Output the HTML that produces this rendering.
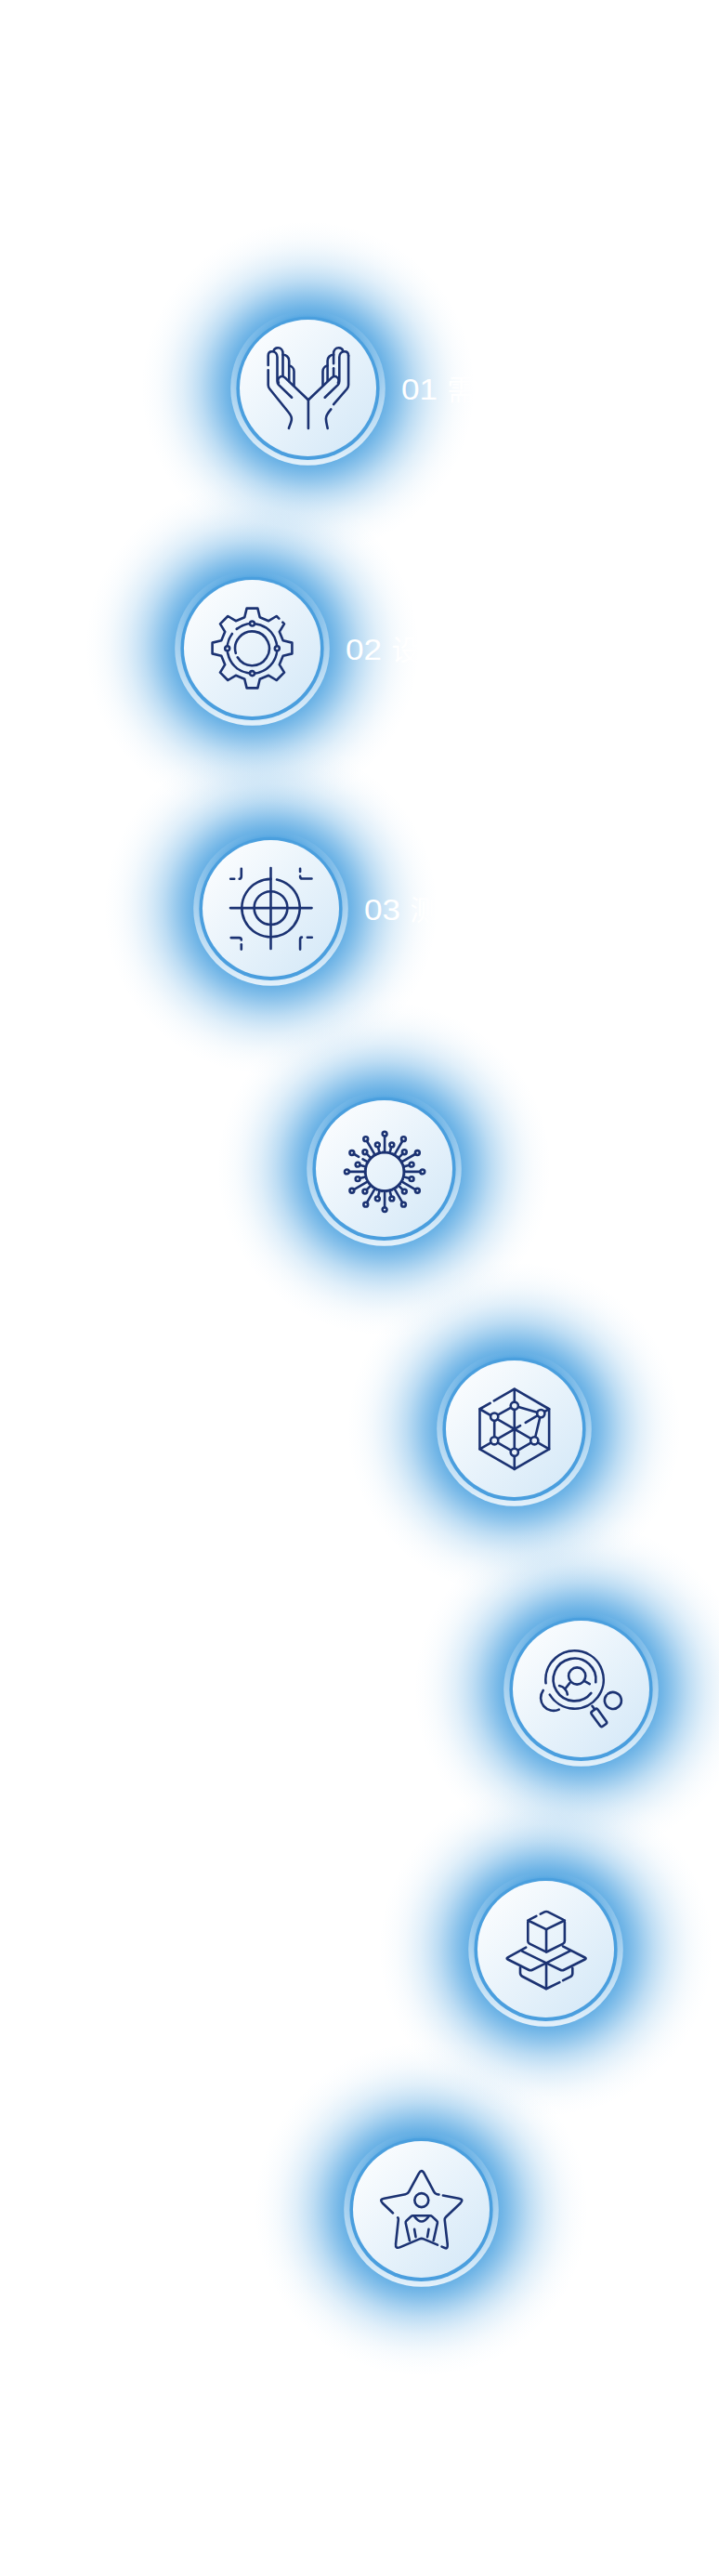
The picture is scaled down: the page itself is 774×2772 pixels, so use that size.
<!DOCTYPE html>
<html lang="zh-CN">
<head>
<meta charset="utf-8">
<title>服务流程</title>
<style>
html,body{margin:0;padding:0;background:#fff;}
body{width:774px;height:2772px;position:relative;overflow:hidden;font-family:"Liberation Sans","Noto Sans CJK SC",sans-serif;}
#art{position:absolute;left:0;top:0;width:774px;height:2772px;display:block;}
.lbl{position:absolute;white-space:nowrap;color:#fff;font-size:30px;line-height:40px;height:40px;}
.lbl b{font-weight:normal;display:inline-block;font-size:31.4px;margin-right:14.2px;transform-origin:0 50%;transform:scaleX(1.12);}
.lbl.h{opacity:0;}
.s{fill:none;stroke:#1b3272;stroke-width:2.6;stroke-linecap:round;stroke-linejoin:round;}
.n{fill:#e9f2fa;stroke:#1b3272;stroke-width:2.6;}
</style>
</head>
<body>
<svg id="art" width="774" height="2772" viewBox="0 0 774 2772">
<defs>
<radialGradient id="gl" gradientUnits="userSpaceOnUse" cx="0" cy="0" r="180"><stop offset="0.0000" stop-color="rgb(30,138,216)" stop-opacity="0.800"/><stop offset="0.4111" stop-color="rgb(30,138,216)" stop-opacity="0.800"/><stop offset="0.4222" stop-color="rgb(30,138,216)" stop-opacity="0.780"/><stop offset="0.4444" stop-color="rgb(30,138,216)" stop-opacity="0.700"/><stop offset="0.4833" stop-color="rgb(30,138,216)" stop-opacity="0.630"/><stop offset="0.5389" stop-color="rgb(30,138,216)" stop-opacity="0.515"/><stop offset="0.5889" stop-color="rgb(30,138,216)" stop-opacity="0.405"/><stop offset="0.6444" stop-color="rgb(30,138,216)" stop-opacity="0.290"/><stop offset="0.6972" stop-color="rgb(30,138,216)" stop-opacity="0.205"/><stop offset="0.7500" stop-color="rgb(30,138,216)" stop-opacity="0.133"/><stop offset="0.8000" stop-color="rgb(30,138,216)" stop-opacity="0.088"/><stop offset="0.8444" stop-color="rgb(30,138,216)" stop-opacity="0.052"/><stop offset="0.8944" stop-color="rgb(30,138,216)" stop-opacity="0.026"/><stop offset="0.9444" stop-color="rgb(30,138,216)" stop-opacity="0.010"/><stop offset="1.0000" stop-color="rgb(30,138,216)" stop-opacity="0.000"/></radialGradient>
<linearGradient id="rg" gradientUnits="userSpaceOnUse" x1="0" y1="-83.3" x2="0" y2="83.3"><stop offset="0" stop-color="#fff" stop-opacity="0"/><stop offset="0.5" stop-color="#fff" stop-opacity="0.44"/><stop offset="1" stop-color="#fff" stop-opacity="0.82"/></linearGradient>
<linearGradient id="fg" gradientUnits="userSpaceOnUse" x1="-73.3" y1="-73.3" x2="73.3" y2="73.3"><stop offset="0" stop-color="#ffffff"/><stop offset="1" stop-color="#d2e7f7"/></linearGradient>
<linearGradient id="bg" gradientUnits="userSpaceOnUse" x1="0" y1="-76" x2="0" y2="78"><stop offset="0" stop-color="#4a9fde"/><stop offset="1" stop-color="#4a9ede"/></linearGradient>
</defs>
<g transform="translate(331.5,417.5)"><circle r="180" fill="url(#gl)"/></g>
<g transform="translate(271.5,697.5)"><circle r="180" fill="url(#gl)"/></g>
<g transform="translate(291.5,977.5)"><circle r="180" fill="url(#gl)"/></g>
<g transform="translate(413.5,1257.5)"><circle r="180" fill="url(#gl)"/></g>
<g transform="translate(553.5,1537.5)"><circle r="180" fill="url(#gl)"/></g>
<g transform="translate(625.5,1817.5)"><circle r="180" fill="url(#gl)"/></g>
<g transform="translate(587.5,2097.5)"><circle r="180" fill="url(#gl)"/></g>
<g transform="translate(453.5,2377.5)"><circle r="180" fill="url(#gl)"/></g>
<g transform="translate(331.5,417.5)">
<circle r="83.3" fill="url(#rg)"/>
<circle cy="0.4" r="77.1" fill="url(#bg)"/>
<circle r="73.5" fill="url(#fg)"/>
<g transform="translate(0,-0.3) scale(1,0.984)"><path class="s" d="M-42.8 -24.5 L-42.8 -35 C-42.8 -38 -41 -39.6 -38.6 -39.6 C-35.5 -39.6 -33 -37 -33 -33.5 L-33 -7 C-33 -5.2 -32.6 -4.4 -31.5 -3.2 L-17.4 10.7"/><path class="s" d="M-42.8 -19.2 L-42.8 -3 C-42.8 -1 -42.3 0 -41 1.6 L-20.8 27 C-18.3 30 -17.2 32.5 -17.7 35.5 C-18.2 38.5 -19.8 41.5 -20.6 44.4"/><path class="s" d="M-37 -40 C-36.5 -42.4 -34.5 -43.6 -32.3 -43.6 C-29 -43.6 -27 -41 -27 -37.5 L-27 -12.6"/><path class="s" d="M-27 -36 C-23.5 -36 -20.3 -33.5 -20.3 -29.5 L-20.3 -7.2"/><path class="s" d="M-20.3 -24 C-17.5 -23.5 -15 -21 -15 -18 L-15 -2.2"/><path class="s" d="M-31.6 -5.4 C-33 -8 -32 -11 -29.6 -12.1 C-27.6 -12.9 -26 -12.2 -24.5 -10.8 L0 13"/><path class="s" d="M43.6 -35 C43.6 -38 41.8 -39.6 39.4 -39.6 C36.3 -39.6 33.8 -37 33.8 -33.5 L33.8 -7 C33.8 -5.2 33.4 -4.4 32.3 -3.2 L18.2 10.7"/><path class="s" d="M43.6 -35 L43.6 -3 C43.6 -1 43.1 0 41.8 1.6 L27.6 18.2"/><path class="s" d="M24.8 23.6 C21.5 27.5 19.3 30.5 19.4 34 C19.5 38 20.6 41.5 21.2 44.4"/><path class="s" d="M37.8 -40 C37.3 -42.4 35.3 -43.6 33.1 -43.6 C29.8 -43.6 27.6 -41 27.6 -37.5 L27.6 -26.4"/><path class="s" d="M27.6 -21.3 L27.6 -12.6"/><path class="s" d="M27.6 -36 C24.3 -36 21.1 -33.5 21.1 -29.5 L21.1 -7.2"/><path class="s" d="M21.1 -24 C18.3 -23.5 16 -21 16 -18 L16 -2.6"/><path class="s" d="M32.4 -5.4 C33.8 -8 32.8 -11 30.4 -12.1 C28.4 -12.9 26.8 -12.2 25.3 -10.8 L0.8 13"/><path class="s" d="M0.4 13.4 L0.4 44.4"/></g>
</g>
<g transform="translate(271.5,697.5)">
<circle r="83.3" fill="url(#rg)"/>
<circle cy="0.4" r="77.1" fill="url(#bg)"/>
<circle r="73.5" fill="url(#fg)"/>
<g><path class="s" d="M32.83 -27.84 L34.49 -26.18 L29.28 -17.67 L33.20 -8.22 L42.90 -5.88 L42.90 5.88 L33.20 8.22 L29.28 17.67 L34.49 26.18 L26.18 34.49 L17.67 29.28 L8.22 33.20 L5.88 42.90 L-5.88 42.90 L-8.22 33.20 L-17.67 29.28 L-26.18 34.49 L-34.49 26.18 L-29.28 17.67 L-33.20 8.22 L-42.90 5.88 L-42.90 -5.88 L-33.20 -8.22 L-29.28 -17.67 L-34.49 -26.18 L-26.18 -34.49 L-17.67 -29.28 L-8.22 -33.20 L-5.88 -42.90 L5.88 -42.90 L8.22 -33.20 L17.67 -29.28 L26.18 -34.49 L28.84 -31.83"/><path class="s" d="M-16.72 -20.64 A26.80 26.80 0 1 1 -21.63 -15.53"/><path class="s" d="M-17.69 5.37 A18.40 18.40 0 1 1 -15.77 9.78"/><circle class="n" cx="26.80" cy="0.30" r="2.5"/><circle class="n" cx="0.00" cy="27.10" r="2.5"/><circle class="n" cx="-26.80" cy="0.30" r="2.5"/><circle class="n" cx="-0.00" cy="-26.50" r="2.5"/></g>
</g>
<g transform="translate(291.5,977.5)">
<circle r="83.3" fill="url(#rg)"/>
<circle cy="0.4" r="77.1" fill="url(#bg)"/>
<circle r="73.5" fill="url(#fg)"/>
<g><path class="s" d="M0 -43.5 L0 43.4"/><path class="s" d="M-43.5 -0.40 L44 -0.40"/><path class="s" d="M6.49 -30.92 A31.20 31.20 0 1 1 -0.00 -31.60"/><circle class="s" cx="0" cy="-0.40" r="17.9"/><path class="s" d="M-31.7 -42.8 L-31.7 -34.5 Q-31.7 -32 -33.8 -31.7"/><path class="s" d="M-43.3 -31.7 L-39.3 -31.7"/><path class="s" d="M31.6 -42.8 L31.6 -39.6"/><path class="s" d="M31.6 -34.6 Q31.6 -32 34 -32 L44 -32"/><path class="s" d="M-42.8 31.6 L-34 31.6 Q-31.7 31.6 -31.7 34"/><path class="s" d="M-31.7 38.7 L-31.7 44.1"/><path class="s" d="M31.6 44.1 L31.6 33.6 Q31.6 31.3 33.4 31.1"/><path class="s" d="M39.4 31.3 L44.3 31.3"/></g>
</g>
<g transform="translate(413.5,1257.5)">
<circle r="83.3" fill="url(#rg)"/>
<circle cy="0.4" r="77.1" fill="url(#bg)"/>
<circle r="73.5" fill="url(#fg)"/>
<g><circle class="s" cx="0.60" cy="3.40" r="20.6" style="stroke-width:2.4"/><circle class="s" cx="0.60" cy="3.40" r="21.2" style="stroke-width:2.6;stroke-dasharray:0.1 2.676"/><path class="s" d="M0.60 -17.60 L0.60 -34.90"/><circle class="s" cx="0.60" cy="-37.30" r="2.4"/><path class="s" d="M6.04 -16.88 L7.74 -23.26"/><circle class="s" cx="8.36" cy="-25.58" r="2.4"/><path class="s" d="M11.10 -14.79 L19.75 -29.77"/><circle class="s" cx="20.95" cy="-31.85" r="2.4"/><path class="s" d="M15.45 -11.45 L20.12 -16.12"/><circle class="s" cx="21.81" cy="-17.81" r="2.4"/><path class="s" d="M18.79 -7.10 L33.77 -15.75"/><circle class="s" cx="35.85" cy="-16.95" r="2.4"/><path class="s" d="M20.88 -2.04 L27.26 -3.74"/><circle class="s" cx="29.58" cy="-4.36" r="2.4"/><path class="s" d="M21.60 3.40 L38.90 3.40"/><circle class="s" cx="41.30" cy="3.40" r="2.4"/><path class="s" d="M20.88 8.84 L27.26 10.54"/><circle class="s" cx="29.58" cy="11.16" r="2.4"/><path class="s" d="M18.79 13.90 L33.77 22.55"/><circle class="s" cx="35.85" cy="23.75" r="2.4"/><path class="s" d="M15.45 18.25 L20.12 22.92"/><circle class="s" cx="21.81" cy="24.61" r="2.4"/><path class="s" d="M11.10 21.59 L19.75 36.57"/><circle class="s" cx="20.95" cy="38.65" r="2.4"/><path class="s" d="M6.04 23.68 L7.74 30.06"/><circle class="s" cx="8.36" cy="32.38" r="2.4"/><path class="s" d="M0.60 24.40 L0.60 41.70"/><circle class="s" cx="0.60" cy="44.10" r="2.4"/><path class="s" d="M-4.84 23.68 L-6.54 30.06"/><circle class="s" cx="-7.16" cy="32.38" r="2.4"/><path class="s" d="M-9.90 21.59 L-18.55 36.57"/><circle class="s" cx="-19.75" cy="38.65" r="2.4"/><path class="s" d="M-14.25 18.25 L-18.92 22.92"/><circle class="s" cx="-20.61" cy="24.61" r="2.4"/><path class="s" d="M-17.59 13.90 L-32.57 22.55"/><circle class="s" cx="-34.65" cy="23.75" r="2.4"/><path class="s" d="M-19.68 8.84 L-26.06 10.54"/><circle class="s" cx="-28.38" cy="11.16" r="2.4"/><path class="s" d="M-20.40 3.40 L-37.70 3.40"/><circle class="s" cx="-40.10" cy="3.40" r="2.4"/><path class="s" d="M-19.68 -2.04 L-26.06 -3.74"/><circle class="s" cx="-28.38" cy="-4.36" r="2.4"/><path class="s" d="M-32.57 -15.75 L-27.29 -12.70"/><path class="s" d="M-22.96 -10.20 L-17.59 -7.10"/><circle class="s" cx="-34.65" cy="-16.95" r="2.4"/><path class="s" d="M-14.25 -11.45 L-18.92 -16.12"/><circle class="s" cx="-20.61" cy="-17.81" r="2.4"/><path class="s" d="M-9.90 -14.79 L-18.55 -29.77"/><circle class="s" cx="-19.75" cy="-31.85" r="2.4"/><path class="s" d="M-4.84 -16.88 L-6.54 -23.26"/><circle class="s" cx="-7.16" cy="-25.58" r="2.4"/></g>
</g>
<g transform="translate(553.5,1537.5)">
<circle r="83.3" fill="url(#rg)"/>
<circle cy="0.4" r="77.1" fill="url(#bg)"/>
<circle r="73.5" fill="url(#fg)"/>
<g><path class="s" d="M-21.72 -30.09 L0.30 -42.80 L37.63 -21.25 L37.63 21.85 L0.30 43.40 L-37.03 21.85 L-37.03 -21.25 L-25.83 -27.72"/><path class="s" d="M0.30 -42.80 L0.30 43.40"/><path class="s" d="M-37.03 -21.25 L37.63 21.85"/><path class="s" d="M-37.03 21.85 L0.30 0.30 L6.57 -3.37"/><path class="s" d="M12.27 -6.71 L28.80 -16.40 L37.63 -21.25"/><path class="s" d="M0.30 -24.80 L-21.30 -12.90 L-21.30 12.80 L0.30 25.30 L21.80 12.80 L28.80 -16.40 Z"/><circle class="n" cx="0.30" cy="-24.80" r="4.1"/><circle class="n" cx="-21.30" cy="-12.90" r="4.1"/><circle class="n" cx="-21.30" cy="12.80" r="4.1"/><circle class="n" cx="0.30" cy="25.30" r="4.1"/><circle class="n" cx="21.80" cy="12.80" r="4.1"/><circle class="n" cx="28.80" cy="-16.40" r="4.1"/></g>
</g>
<g transform="translate(625.5,1817.5)">
<circle r="83.3" fill="url(#rg)"/>
<circle cy="0.4" r="77.1" fill="url(#bg)"/>
<circle r="73.5" fill="url(#fg)"/>
<g><path class="s" d="M-37.92 -6.20 A31.20 31.20 0 1 1 -33.69 6.07"/><path class="s" d="M10.85 4.41 A22.90 22.90 0 1 1 15.78 -7.21"/><circle class="s" cx="-4.3" cy="-14.0" r="9.1"/><path class="s" d="M-12.2 -6.4 L-17.3 0"/><path class="s" d="M-23.4 -3.4 C-20.5 -2.8 -18.5 -1.5 -17.3 0 C-15.6 2 -14.8 4 -14.6 6"/><path class="s" d="M4.4 -8.2 L9.3 -5.3"/><path class="s" d="M12.0 18.3 L14.8 22.0"/><rect class="s" x="-9.85" y="-4.15" width="19.7" height="8.3" rx="2.2" transform="translate(19.3,30.9) rotate(54)"/><path class="s" d="M28.86 5.31 A9.00 9.00 0 1 1 27.31 6.86"/><path class="s" d="M-23.77 22.11 A13.80 13.80 0 0 1 -40.76 1.49"/></g>
</g>
<g transform="translate(587.5,2097.5)">
<circle r="83.3" fill="url(#rg)"/>
<circle cy="0.4" r="77.1" fill="url(#bg)"/>
<circle r="73.5" fill="url(#fg)"/>
<g><path class="s" d="M-5.77 -37.80 L-1.23 -40.10 Q0.55 -41.00 2.34 -40.10 L18.61 -31.90 Q20.40 -31.00 20.40 -29.00 L20.40 -8.70 Q20.40 -6.70 18.61 -5.81 L2.34 2.21 Q0.55 3.10 -1.24 2.21 L-17.41 -5.81 Q-19.20 -6.70 -19.20 -8.70 L-19.20 -29.00 Q-19.20 -31.00 -17.42 -31.90 L-10.11 -35.60"/><path class="s" d="M-19.20 -31.00 L0.55 -21.30 L20.40 -31.00"/><path class="s" d="M0.55 -21.30 L0.55 3.10"/><path class="s" d="M-21.30 -1.80 L-40.87 8.94 Q-42.80 10.00 -40.83 10.98 L-18.37 22.22 Q-16.40 23.20 -14.42 22.23 L0.55 14.90"/><path class="s" d="M0.55 14.90 L-25.5 2.1"/><path class="s" d="M18.40 -3.20 L42.14 8.99 Q44.10 10.00 42.13 10.98 L19.67 22.22 Q17.70 23.20 15.72 22.24 L0.55 14.90"/><path class="s" d="M0.55 14.90 L26.7 1.7"/><path class="s" d="M-27.50 19.70 L-27.50 25.60 Q-27.50 28.10 -25.28 29.25 L-0.78 42.01 Q0.55 42.70 1.90 42.04 L14.90 35.70"/><path class="s" d="M18.60 33.70 L26.57 29.64 Q28.80 28.50 28.80 26.00 L28.80 20.40"/><path class="s" d="M0.55 14.90 L0.55 42.7"/></g>
</g>
<g transform="translate(453.5,2377.5)">
<circle r="83.3" fill="url(#rg)"/>
<circle cy="0.4" r="77.1" fill="url(#bg)"/>
<circle r="73.5" fill="url(#fg)"/>
<g><path class="s" d="M23.38 -15.05 L40.41 -11.74 Q46.30 -10.60 41.95 -6.47 L26.45 8.22 Q25.00 9.60 25.23 11.59 L28.20 37.04 Q28.90 43.00 25.47 41.55 L22.04 40.10"/><path class="s" d="M17.46 38.16 L2.60 31.87 Q0.30 30.90 -2.00 31.88 L-22.58 40.65 Q-28.10 43.00 -27.46 37.03 L-24.71 11.59 Q-24.50 9.60 -24.93 9.20 L-25.35 8.79"/><path class="s" d="M-30.46 3.94 L-41.45 -6.47 Q-45.80 -10.60 -39.91 -11.75 L-17.05 -16.22 Q-14.60 -16.70 -13.41 -18.90 L-2.80 -38.48 Q0.30 -44.20 3.35 -38.46 L13.73 -18.91 Q14.90 -16.70 16.94 -16.30 L18.98 -15.91"/><circle class="s" cx="0.3" cy="-9.9" r="7.5"/><path class="s" d="M-12.60 33.50 L-16.78 14.66 Q-17.10 13.20 -16.00 12.18 L-11.08 7.62 Q-10.20 6.80 -9.00 6.80 L9.60 6.80 Q10.80 6.80 11.68 7.62 L16.60 12.18 Q17.70 13.20 17.38 14.66 L13.20 33.50"/><path class="s" d="M-7.4 7.4 Q0.3 18.5 8.0 7.4"/><path class="s" d="M-7.4 21.2 L-6.0 29.6"/><path class="s" d="M8.0 21.2 L6.6 29.6"/></g>
</g>
</svg>
<div class="lbl" style="left:432.4px;top:399.5px"><b>01</b>需求分析</div>
<div class="lbl" style="left:372.4px;top:679.5px"><b>02</b>设计方案</div>
<div class="lbl" style="left:392.4px;top:959.5px"><b>03</b>测试验证</div>
<div class="lbl h" style="left:514.4px;top:1239.5px"><b>04</b>技术研发</div>
<div class="lbl h" style="right:321.4px;top:1519.5px"><b>05</b>系统集成</div>
<div class="lbl h" style="right:249.4px;top:1799.5px"><b>06</b>质量验收</div>
<div class="lbl h" style="right:287.4px;top:2079.5px"><b>07</b>交付部署</div>
<div class="lbl h" style="right:421.4px;top:2359.5px"><b>08</b>售后服务</div>
</body>
</html>
